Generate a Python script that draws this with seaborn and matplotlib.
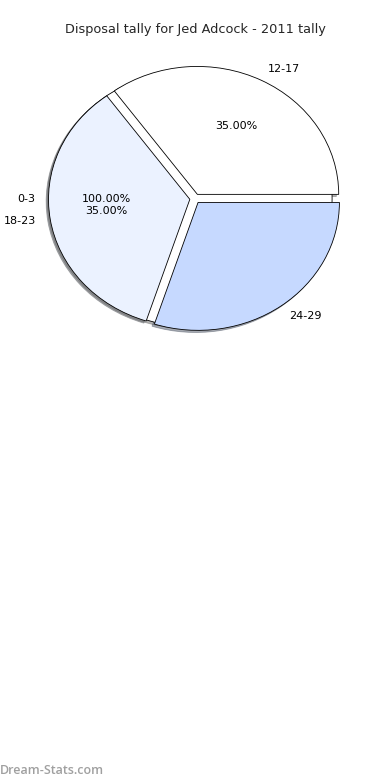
import matplotlib
matplotlib.use("Agg")
import matplotlib.pyplot as plt
import seaborn as sns

# Data
title = "Disposal tally for Jed Adcock - 2011 tally"
base_labels = ["0-3"]
base_values = [100]
age_labels = ["12-17", "18-23", "24-29"]
age_values = [35, 35, 30]
age_colors = ["#FFFFFF", "#EBF2FF", "#C6D9FF"]
hide_pct = ["24-29"]

sns.set_theme(style="white")
plt.rcParams["font.family"] = ["DejaVu Sans"]

fig = plt.figure(figsize=(3.9, 7.8), dpi=100)
fig.patch.set_facecolor("white")
ax = fig.add_axes([0.047, 0.5404, 0.906, 0.410])

txt_kw = dict(fontsize=8, color="black")
shadow_kw = dict(ox=-0.012, oy=-0.012, shade=0.6)
ax.pie(base_values, labels=base_labels, colors=["white"], autopct="%.2f%%",
       shadow=shadow_kw, explode=[0.03], textprops=txt_kw,
       wedgeprops=dict(edgecolor="black", linewidth=0.6))
wedges, texts, autotexts = ax.pie(age_values, labels=age_labels, colors=age_colors,
                                  autopct="%.2f%%", shadow=shadow_kw,
                                  explode=[0.037] * len(age_values), textprops=txt_kw,
                                  wedgeprops=dict(edgecolor="black", linewidth=0.6))
for lab, at in zip(age_labels, autotexts):
    if lab in hide_pct:
        at.set_text("")

ax.set_aspect("auto")
ax.set_xlim(-1.25, 1.25)
ax.set_ylim(-1.25, 1.25)
ax.axis("off")

fig.text(0.5, 1 - 30 / 780, title, ha="center", va="center", fontsize=9.3)
fig.text(0.0, 1 - 770 / 780, "Dream-Stats.com", ha="left", va="center",
         fontsize=9, color="#A0A0A0", fontweight="semibold", family=["Open Sans", "DejaVu Sans"])

fig.savefig("out.png", dpi=100, facecolor="white")
